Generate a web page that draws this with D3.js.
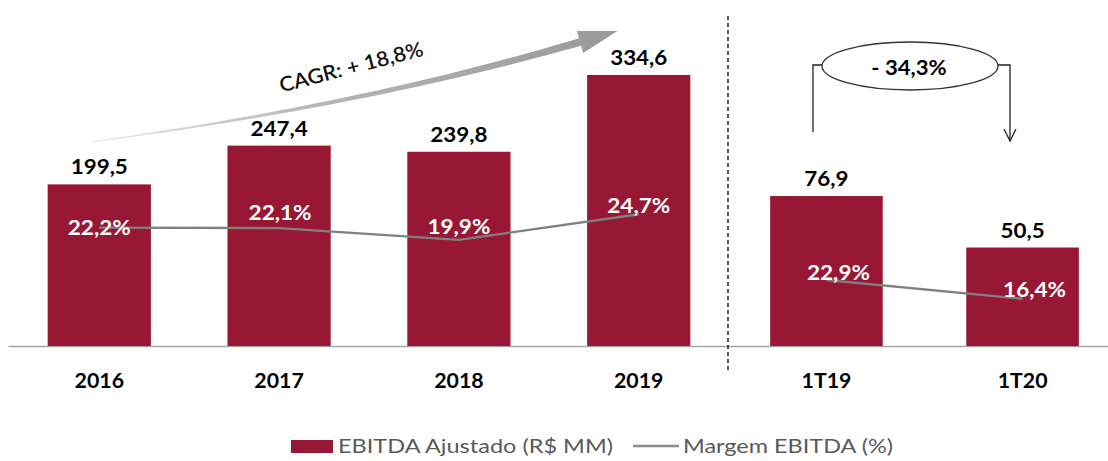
<!DOCTYPE html>
<html>
<head>
<meta charset="utf-8">
<script src="https://cdn.jsdelivr.net/npm/d3@7"></script>
<style>
  html, body { margin: 0; padding: 0; background: #fff; }
  svg { display: block; font-family: Lato, "Open Sans", sans-serif; }
</style>
</head>
<body>
<svg id="chart" width="1108" height="461"></svg>
<script>
// ---- data ----
const yearCategories = ["2016", "2017", "2018", "2019"];
const yearEbitda = [199.5, 247.4, 239.8, 334.6];
const yearMargin = [22.2, 22.1, 19.9, 24.7];
const yearEbitdaLabels = ["199,5", "247,4", "239,8", "334,6"];
const yearMarginLabels = ["22,2%", "22,1%", "19,9%", "24,7%"];

const quarterCategories = ["1T19", "1T20"];
const quarterEbitda = [76.9, 50.5];
const quarterMargin = [22.9, 16.4];
const quarterEbitdaLabels = ["76,9", "50,5"];
const quarterMarginLabels = ["22,9%", "16,4%"];

const cagrLabel = "CAGR: + 18,8%";
const changeLabel = "- 34,3%";
const legendLabels = ["EBITDA Ajustado (R$ MM)", "Margem EBITDA (%)"];

// ---- label nudges (layout only) ----
const yearMarginDx = [0, 1, 0, 0];
const yearMarginDy = [7.5, -8, -6, -1];
const quarterMarginDx = [12, 12];
const quarterMarginDy = [0, -2];

// ---- styles ----
const barColor = "#981735";
const lineColor = "#808080";
const baseY = 346;

const svg = d3.select("#chart");

function stretchedText(parent, x, y, txt, opts) {
  const g = parent.append("g").attr("transform", `translate(${x},${y}) scale(${opts.sx || 1},1)`);
  g.append("text")
    .attr("text-anchor", opts.anchor || "middle")
    .attr("font-size", opts.size)
    .attr("font-weight", opts.weight || "bold")
    .attr("fill", opts.fill || "#000")
    .text(txt);
  return g;
}

// ---- scales ----
const xL = d3.scaleBand().domain(yearCategories).range([9, 729]).paddingInner(0.426).paddingOuter(0.215);
const xR = d3.scaleBand().domain(quarterCategories).range([728, 1121]).paddingInner(0.426).paddingOuter(0.215);
const yL = d3.scaleLinear().domain([0, 400]).range([baseY, 22]);
const yR = d3.scaleLinear().domain([0, 90]).range([baseY, 170.5]);
const pL = d3.scaleLinear().domain([0, 30]).range([baseY, 186]);
const pR = d3.scaleLinear().domain([0, 30]).range([baseY, 259.6]);

// ---- axis baseline ----
const axisG = svg.append("g").attr("transform", `translate(0,${baseY})`);
const axisScale = d3.scaleLinear().domain([0, 1]).range([8, 1108]);
axisG.call(d3.axisBottom(axisScale).ticks(0).tickSize(0).tickFormat(""));
axisG.select(".domain").attr("stroke", "#a6a6a6").attr("stroke-width", 1.6);

// ---- panels ----
function panel(cats, vals, margins, valLabels, marginLabels, x, y, p, mDx, mDy) {
  const g = svg.append("g");
  g.selectAll("rect.bar").data(cats).join("rect")
    .attr("class", "bar")
    .attr("x", d => x(d))
    .attr("width", x.bandwidth())
    .attr("y", (d, i) => y(vals[i]))
    .attr("height", (d, i) => baseY - y(vals[i]))
    .attr("fill", barColor);

  const line = d3.line().x((d, i) => x(cats[i]) + x.bandwidth() / 2).y(d => p(d));
  g.append("path").datum(margins)
    .attr("d", line)
    .attr("fill", "none")
    .attr("stroke", lineColor)
    .attr("stroke-width", 2.4);

  cats.forEach((c, i) => {
    const cx = x(c) + x.bandwidth() / 2;
    stretchedText(g, cx, y(vals[i]) - 10, valLabels[i], { size: 20, sx: 1.12 });
    stretchedText(g, cx + mDx[i], p(margins[i]) + mDy[i], marginLabels[i], { size: 20.5, sx: 1.1, fill: "#fff" });
    stretchedText(g, cx, 388, c, { size: 20.5, sx: 1.04 });
  });
}

panel(yearCategories, yearEbitda, yearMargin, yearEbitdaLabels, yearMarginLabels, xL, yL, pL, yearMarginDx, yearMarginDy);
panel(quarterCategories, quarterEbitda, quarterMargin, quarterEbitdaLabels, quarterMarginLabels, xR, yR, pR, quarterMarginDx, quarterMarginDy);

// ---- dashed separator ----
svg.append("line")
  .attr("x1", 728).attr("x2", 728).attr("y1", 16).attr("y2", 373)
  .attr("stroke", "#000").attr("stroke-width", 1.3).attr("stroke-dasharray", "4,3");

// ---- CAGR arrow ----
const defs = svg.append("defs");
const grad = defs.append("linearGradient").attr("id", "arrowGrad")
  .attr("gradientUnits", "userSpaceOnUse").attr("x1", 90).attr("y1", 140).attr("x2", 617).attr("y2", 30);
grad.append("stop").attr("offset", "0%").attr("stop-color", "#e4e4e4");
grad.append("stop").attr("offset", "45%").attr("stop-color", "#b4b4b4");
grad.append("stop").attr("offset", "100%").attr("stop-color", "#999999");

const P0 = [90, 142], P1 = [360, 106], P2 = [580, 42];
function bez(t) {
  const a = (1 - t) * (1 - t), b = 2 * (1 - t) * t, c = t * t;
  return [a * P0[0] + b * P1[0] + c * P2[0], a * P0[1] + b * P1[1] + c * P2[1]];
}
function bezD(t) {
  const dx = 2 * (1 - t) * (P1[0] - P0[0]) + 2 * t * (P2[0] - P1[0]);
  const dy = 2 * (1 - t) * (P1[1] - P0[1]) + 2 * t * (P2[1] - P1[1]);
  const l = Math.hypot(dx, dy);
  return [dx / l, dy / l];
}
const edgeTop = [], edgeBot = [];
d3.range(0, 1.0001, 0.02).forEach(t => {
  const pt = bez(t), d = bezD(t), n = [-d[1], d[0]];
  const w = 0.4 + 3.4 * t;
  edgeTop.push([pt[0] - n[0] * w, pt[1] - n[1] * w]);
  edgeBot.push([pt[0] + n[0] * w, pt[1] + n[1] * w]);
});
const dEnd = bezD(1), nEnd = [-dEnd[1], dEnd[0]];
const tip = [P2[0] + dEnd[0] * 39, P2[1] + dEnd[1] * 39];
const headA = [P2[0] - nEnd[0] * 11.5, P2[1] - nEnd[1] * 11.5];
const headB = [P2[0] + nEnd[0] * 11.5, P2[1] + nEnd[1] * 11.5];
const arrowPts = edgeTop.concat([headA, tip, headB]).concat(edgeBot.slice().reverse());
svg.append("path")
  .attr("d", d3.line()(arrowPts) + "Z")
  .attr("fill", "url(#arrowGrad)");

svg.append("g").attr("transform", "translate(353,74) rotate(-14.5) scale(1.06,1)")
  .append("text").attr("text-anchor", "middle")
  .attr("font-size", 20.5).attr("font-weight", 600).attr("fill", "#111")
  .text(cagrLabel);

// ---- change bracket ----
const br = svg.append("g").attr("fill", "none").attr("stroke", "#222").attr("stroke-width", 1.3);
br.append("path").attr("d", "M813,132 V65 H823");
br.append("path").attr("d", "M997,65 H1010 V141");
br.append("path").attr("d", "M1004,129 L1010,141 L1016,129");
svg.append("ellipse").attr("cx", 910).attr("cy", 66).attr("rx", 88).attr("ry", 24)
  .attr("fill", "#fff").attr("stroke", "#333").attr("stroke-width", 1.3);
stretchedText(svg, 909, 75, changeLabel, { size: 20.5, sx: 1.08 });

// ---- legend ----
const lg = svg.append("g");
lg.append("rect").attr("x", 291).attr("y", 440).attr("width", 42).attr("height", 13).attr("fill", barColor);
lg.append("text").attr("x", 338).attr("y", 453).attr("font-size", 20).attr("fill", "#595959")
  .attr("textLength", 275).attr("lengthAdjust", "spacingAndGlyphs").text(legendLabels[0]);
lg.append("line").attr("x1", 633).attr("x2", 679).attr("y1", 446).attr("y2", 446)
  .attr("stroke", "#8c8c8c").attr("stroke-width", 2.4);
lg.append("text").attr("x", 683).attr("y", 453).attr("font-size", 20).attr("fill", "#595959")
  .attr("textLength", 210).attr("lengthAdjust", "spacingAndGlyphs").text(legendLabels[1]);
</script>
</body>
</html>
